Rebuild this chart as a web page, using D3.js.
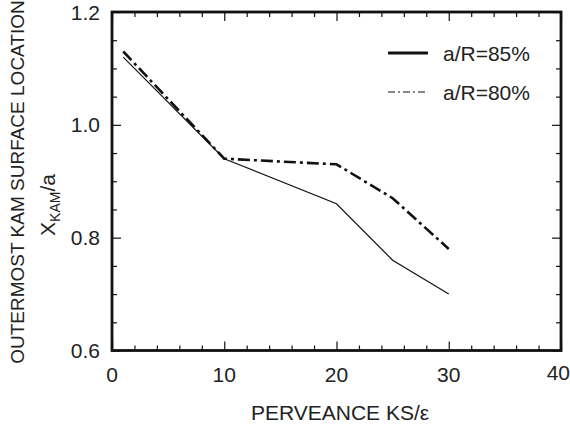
<!DOCTYPE html>
<html><head><meta charset="utf-8">
<script src="https://cdn.jsdelivr.net/npm/d3@7"></script>
<style>body{margin:0;background:#fff}svg{display:block}text{font-family:"Liberation Sans",Arial,sans-serif;fill:#222}</style>
</head><body><svg id="c" width="570" height="426"></svg>
<script>
const perveance85 = [1, 10, 20, 25, 30];
const kam85 = [1.12, 0.94, 0.86, 0.76, 0.70];
const perveance80 = [1, 10, 20, 25, 30];
const kam80 = [1.13, 0.94, 0.93, 0.87, 0.78];
const xTicks = [0, 10, 20, 30, 40];
const yTicks = [0.6, 0.8, 1.0, 1.2];
const seriesNames = ["a/R=85%", "a/R=80%"];

const svg = d3.select("#c");
const L = 112, R = 561, T = 12, B = 350.5;
const x = d3.scaleLinear().domain([0, 40]).range([L, R]);
const y = d3.scaleLinear().domain([0.6, 1.2]).range([B, T]);
const ink = "#111";

const xMinor = d3.range(0, 40.01, 2);
const yMinor = d3.range(0.6, 1.2001, 0.05);
function isMajorX(v){return Math.abs(v/10 - Math.round(v/10))<1e-6;}
function isMajorY(v){return Math.abs(v/0.2 - Math.round(v/0.2))<1e-6;}

const bAx = svg.append("g").attr("transform",`translate(0,${B})`)
  .call(d3.axisBottom(x).tickValues(xMinor).tickSize(-5).tickFormat(""));
const tAx = svg.append("g").attr("transform",`translate(0,${T})`)
  .call(d3.axisTop(x).tickValues(xMinor).tickSize(-5).tickFormat(""));
const lAx = svg.append("g").attr("transform",`translate(${L},0)`)
  .call(d3.axisLeft(y).tickValues(yMinor).tickSize(-5).tickFormat(""));
const rAx = svg.append("g").attr("transform",`translate(${R},0)`)
  .call(d3.axisRight(y).tickValues(yMinor).tickSize(-5).tickFormat(""));
[bAx,tAx].forEach(g=>g.selectAll(".tick line").attr("y2",d=>(isMajorX(d)?9:5)*(g===bAx?-1:1)));
[lAx,rAx].forEach(g=>g.selectAll(".tick line").attr("x2",d=>(isMajorY(d)?9:5)*(g===lAx?1:-1)));
[bAx,tAx,lAx,rAx].forEach(g=>{g.select(".domain").remove();g.selectAll(".tick line").attr("stroke",ink).attr("stroke-width",1.2);});

svg.append("rect").attr("x",L).attr("y",T).attr("width",R-L).attr("height",B-T)
  .attr("fill","none").attr("stroke",ink).attr("stroke-width",2.8);

svg.append("g").selectAll("text").data(xTicks).join("text")
  .attr("x",d=>d===40?570:x(d)).attr("y",d=>d===40?380:382)
  .attr("text-anchor",d=>d===40?"end":"middle")
  .attr("font-size",21).text(d=>d);
svg.append("g").selectAll("text").data(yTicks).join("text")
  .attr("x",100).attr("y",d=>y(d)+7.5).attr("text-anchor","end")
  .attr("font-size",21).text(d=>d.toFixed(1));

const line = d3.line().x(d=>x(d[0])).y(d=>y(d[1]));
svg.append("path").datum(d3.zip(perveance85,kam85)).attr("d",line)
  .attr("fill","none").attr("stroke",ink).attr("stroke-width",1.2);
svg.append("path").datum(d3.zip(perveance80,kam80)).attr("d",line)
  .attr("fill","none").attr("stroke",ink).attr("stroke-width",2.6)
  .attr("stroke-dasharray","12,4,3,4");

const lg = svg.append("g");
lg.append("line").attr("x1",388).attr("x2",428).attr("y1",53).attr("y2",53)
  .attr("stroke",ink).attr("stroke-width",3);
lg.append("line").attr("x1",388).attr("x2",428).attr("y1",92).attr("y2",92)
  .attr("stroke",ink).attr("stroke-width",1).attr("stroke-dasharray","7,3,2,3");
lg.selectAll("text").data(seriesNames).join("text")
  .attr("x",443).attr("y",(d,i)=>61+i*39).attr("font-size",21).text(d=>d);

svg.append("text").attr("x",340).attr("y",420).attr("text-anchor","middle")
  .attr("font-size",21).text("PERVEANCE KS/ε");
svg.append("text").attr("transform","translate(24,182) rotate(-90)")
  .attr("text-anchor","middle").attr("font-size",19).text("OUTERMOST KAM SURFACE LOCATION");
const t2 = svg.append("text").attr("transform","translate(55,205) rotate(-90)")
  .attr("text-anchor","middle").attr("font-size",21);
t2.append("tspan").text("X");
t2.append("tspan").attr("font-size",14).attr("dy",5).text("KAM");
t2.append("tspan").attr("dy",-5).text("/a");
</script></body></html>
